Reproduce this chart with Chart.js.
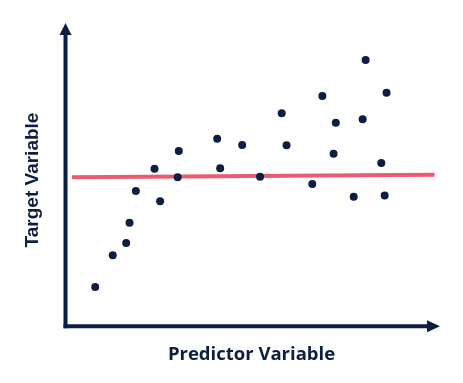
<!DOCTYPE html>
<html>
<head>
<meta charset="utf-8">
<script src="https://cdn.jsdelivr.net/npm/chart.js@4"></script>
<style>
html,body{margin:0;padding:0;background:#fff;}
#wrap{width:463px;height:383px;}
</style>
</head>
<body>
<div id="wrap"><canvas id="c" width="463" height="383"></canvas></div>
<script>
// Data (arbitrary 0-100 units)
const predictorX = [8.1, 12.8, 16.4, 17.3, 19.0, 24.0, 25.5, 30.5, 30.2, 40.8, 41.6, 47.5, 52.3, 58.1, 59.4, 66.3, 69.0, 72.0, 72.6, 77.4, 79.8, 80.6, 84.8, 85.7, 86.2];
const targetY    = [13.6, 24.4, 28.6, 35.5, 46.3, 53.8, 42.8, 59.9, 50.9, 64.0, 54.0, 61.9, 51.1, 72.7, 61.8, 48.6, 78.6, 58.9, 69.5, 44.3, 70.7, 90.8, 55.8, 44.7, 79.7];
const fitLineX = [1.9, 99.1];
const fitLineY = [50.9, 51.8];
const xTitle = "Predictor Variable";
const yTitle = "Target Variable";

const navy = '#0c1f42';
const red = '#ec5a6e';

const arrowAxes = {
  id: 'arrowAxes',
  afterDatasetsDraw(chart) {
    const {ctx, chartArea: a} = chart;
    ctx.save();
    ctx.strokeStyle = navy;
    ctx.fillStyle = navy;
    ctx.lineWidth = 4;
    const ax = a.left + 0.5, ay = a.bottom - 0.7;
    ctx.beginPath();
    ctx.moveTo(ax, ay + 2);
    ctx.lineTo(ax, a.top - 1);
    ctx.stroke();
    ctx.beginPath();
    ctx.moveTo(ax - 2, ay);
    ctx.lineTo(a.right - 10, ay);
    ctx.stroke();
    ctx.beginPath();
    ctx.moveTo(ax, a.top - 10);
    ctx.lineTo(ax - 6, a.top + 2);
    ctx.lineTo(ax + 6, a.top + 2);
    ctx.closePath();
    ctx.fill();
    ctx.beginPath();
    ctx.moveTo(a.right + 2, ay);
    ctx.lineTo(a.right - 11, ay - 6);
    ctx.lineTo(a.right - 11, ay + 6);
    ctx.closePath();
    ctx.fill();
    ctx.restore();
  }
};

new Chart(document.getElementById('c'), {
  type: 'scatter',
  data: {
    datasets: [
      {
        type: 'line',
        data: fitLineX.map((x, i) => ({x, y: fitLineY[i]})),
        borderColor: red,
        borderWidth: 4,
        pointRadius: 0,
        fill: false,
        order: 2
      },
      {
        data: predictorX.map((x, i) => ({x, y: targetY[i]})),
        backgroundColor: navy,
        borderColor: navy,
        pointRadius: 4,
        borderWidth: 0,
        order: 1
      }
    ]
  },
  options: {
    responsive: false,
    animation: false,
    layout: {padding: {top: 33, right: 25, left: 0, bottom: 0}},
    plugins: {legend: {display: false}, tooltip: {enabled: false}},
    scales: {
      x: {
        min: 0, max: 100,
        grid: {display: false},
        border: {display: false},
        ticks: {display: false},
        title: {
          display: true, text: xTitle, color: navy,
          font: {family: '"Open Sans"', size: 18.5, weight: 'bold'},
          padding: {top: 0, bottom: 17}
        },
        afterFit: s => { s.height = 56; }
      },
      y: {
        min: 0, max: 100,
        grid: {display: false},
        border: {display: false},
        ticks: {display: false},
        title: {
          display: true, text: yTitle, color: navy,
          font: {family: '"Liberation Sans", Arial, sans-serif', size: 19, weight: 'bold'},
          padding: {top: 21, bottom: 0}
        },
        afterFit: s => { s.width = 65; }
      }
    }
  },
  plugins: [arrowAxes]
});
</script>
</body>
</html>
